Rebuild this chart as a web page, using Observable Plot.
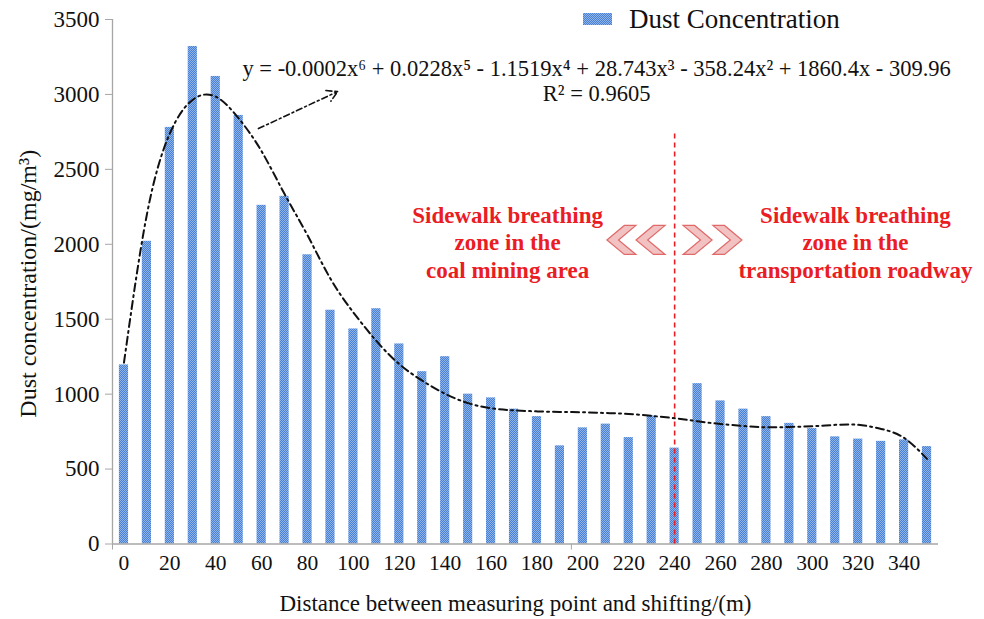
<!DOCTYPE html>
<html>
<head>
<meta charset="utf-8">
<script src="https://cdn.jsdelivr.net/npm/d3@7"></script>
<script src="https://cdn.jsdelivr.net/npm/@observablehq/plot@0.6"></script>
<style>
  body { margin: 0; background: #fff; }
  #wrap { position: relative; width: 984px; height: 619px; font-family: "Liberation Serif", "Times New Roman", serif; }
  #wrap svg text { font-family: "Liberation Serif", "Times New Roman", serif; }
  #legend { position: absolute; left: 583px; top: 0; height: 38px; display: flex; align-items: center; font-size: 27px; color: #111; }
  #legend .sw { width: 29px; height: 12px; margin-right: 17px;
    background: repeating-conic-gradient(#4a80d2 0 25%, #8fb4ea 0 50%) 0 0 / 2px 2px; }
</style>
</head>
<body>
<div id="wrap">
  <div id="legend"><span class="sw"></span><span>Dust Concentration</span></div>
</div>
<script>
// Measuring points (m) and measured dust concentration (mg/m³)
const distance = [0, 10, 20, 30, 40, 50, 60, 70, 80, 90, 100, 110, 120, 130, 140, 150, 160, 170,
  180, 190, 200, 210, 220, 230, 240, 250, 260, 270, 280, 290, 300, 310, 320, 330, 340, 350];
const dust = [1195, 2020, 2780, 3320, 3120, 2860, 2260, 2320, 1930, 1560, 1435, 1570, 1335, 1150, 1250, 1000, 975, 900,
  850, 655, 775, 800, 710, 855, 640, 1070, 955, 900, 850, 805, 770, 715, 700, 685, 695, 650];
// Sixth-order polynomial trend line, read at each measuring point
const trend = [1210, 2200, 2740, 2965, 2985, 2840, 2620, 2335, 2060, 1770, 1545, 1355, 1200, 1090, 1002, 940, 906, 892,
  885, 881, 879, 874, 868, 855, 839, 819, 801, 788, 779, 781, 786, 795, 795, 768, 708, 568];

const yTicks = [0, 500, 1000, 1500, 2000, 2500, 3000, 3500];
const xTickLabels = d3.range(0, 341, 20);
const boundaryTicks = [-5, 195];
const boundary = 240;

const equation = "y = -0.0002x⁶ + 0.0228x⁵ - 1.1519x⁴ + 28.743x³ - 358.24x² + 1860.4x - 309.96";
const rSquared = "R² = 0.9605";
const leftZone = "Sidewalk breathing\nzone in the\ncoal mining area";
const rightZone = "Sidewalk breathing\nzone in the\ntransportation roadway";

const rows = distance.map((d, i) => ({distance: d, dust: dust[i], trend: trend[i]}));

// Chevron symbols pointing left / right
function chevron(dir) {
  return {
    draw(context, size) {
      const r = Math.sqrt(size / Math.PI);
      const pts = [[-1, 0], [0.2, -1], [1, -1], [-0.2, 0], [1, 1], [0.2, 1]];
      pts.forEach(([px, py], i) => {
        const X = dir * px * r, Y = py * r;
        i ? context.lineTo(X, Y) : context.moveTo(X, Y);
      });
      context.closePath();
    }
  };
}
const chevronsLeft = [{x: 216.8}, {x: 229.5}];
const chevronsRight = [{x: 250}, {x: 263}];

const serif = '"Liberation Serif", "Times New Roman", serif';
const red = "#ea1c24";
const axisGray = "#a6a6a6";

const chart = Plot.plot({
  width: 984,
  height: 619,
  marginLeft: 112,
  marginRight: 46,
  marginTop: 19,
  marginBottom: 75.5,
  style: {fontFamily: serif, fontSize: "22px", color: "#111", background: "transparent"},
  x: {type: "linear", domain: [-5, 355]},
  y: {domain: [0, 3500]},
  marks: [
    Plot.rectY(rows, {x1: d => d.distance - 2, x2: d => d.distance + 2, y: "dust", fill: "url(#dustDots)"}),
    Plot.ruleY([0], {x1: -5, x2: 355, stroke: axisGray, strokeWidth: 1.3}),
    Plot.ruleX([-5], {y1: 0, y2: 3500, stroke: axisGray, strokeWidth: 1.3}),
    Plot.axisY({ticks: yTicks, tickSize: 7, tickPadding: 6, tickFormat: d => String(d), stroke: axisGray, fill: "#111",
      fontSize: 23, fontFamily: serif, label: null}),
    Plot.axisX({ticks: xTickLabels, tickSize: 0, tickPadding: 11, tickFormat: d => String(d), fill: "#111",
      fontSize: 21.5, fontFamily: serif, label: null}),
    Plot.axisX({ticks: boundaryTicks, tickSize: 6, tickFormat: () => "", stroke: axisGray, label: null}),
    Plot.ruleX([boundary], {y1: 0, y2: 2740, stroke: red, strokeWidth: 1.6, strokeDasharray: "5,4"}),
    Plot.line(rows, {x: "distance", y: "trend", curve: "natural", stroke: "#111", strokeWidth: 2, strokeDasharray: "8,4,2,4"}),
    Plot.arrow([{x1: 58.6, y1: 2772, x2: 93.1, y2: 3019}], {x1: "x1", y1: "y1", x2: "x2", y2: "y2",
      stroke: "#111", strokeWidth: 1.6, strokeDasharray: "6,3,2,3", headLength: 11}),
    Plot.text([equation], {x: 206, y: 3173, fontSize: 22.5, fontFamily: serif, fill: "#111"}),
    Plot.text([rSquared], {x: 206, y: 3006, fontSize: 22.5, fontFamily: serif, fill: "#111"}),
    Plot.text([leftZone], {x: 167.2, y: 2018, fill: red, fontWeight: "bold", fontSize: 23, fontFamily: serif, lineHeight: 1.2}),
    Plot.text([rightZone], {x: 318.8, y: 2018, fill: red, fontWeight: "bold", fontSize: 23, fontFamily: serif, lineHeight: 1.2}),
    Plot.dot(chevronsLeft, {x: "x", y: 2029, r: 14.5, symbol: chevron(1), fill: "#f2c2c2", stroke: "#e06a6a", strokeWidth: 1.2}),
    Plot.dot(chevronsRight, {x: "x", y: 2029, r: 14.5, symbol: chevron(-1), fill: "#f2c2c2", stroke: "#e06a6a", strokeWidth: 1.2}),
    Plot.text(["Dust concentration/(mg/m³)"], {frameAnchor: "left", textAnchor: "middle", lineAnchor: "middle",
      rotate: -90, dx: -84, dy: 2, fontSize: 24, fontFamily: serif, fill: "#111"}),
    Plot.text(["Distance between measuring point and shifting/(m)"], {frameAnchor: "bottom", textAnchor: "middle",
      lineAnchor: "middle", dx: -10, dy: 60, fontSize: 23, fontFamily: serif, fill: "#111"})
  ]
});

// Dotted blue fill used by the bars
const defs = document.createElementNS("http://www.w3.org/2000/svg", "defs");
defs.innerHTML = '<pattern id="dustDots" width="2" height="2" patternUnits="userSpaceOnUse">' +
  '<rect width="2" height="2" fill="#4a80d2"/>' +
  '<rect width="1" height="1" fill="#8fb4ea"/>' +
  '<rect x="1" y="1" width="1" height="1" fill="#8fb4ea"/></pattern>';
chart.prepend(defs);

document.getElementById("wrap").prepend(chart);
</script>
</body>
</html>
